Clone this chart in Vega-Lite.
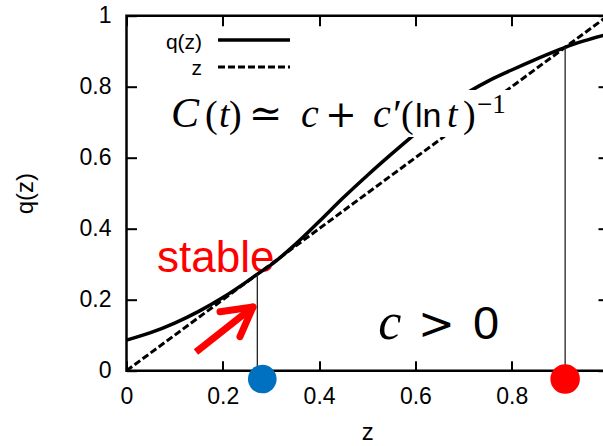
{
  "$schema": "https://vega.github.io/schema/vega-lite/v6.json",
  "width": 481.5,
  "height": 355,
  "autosize": "none",
  "padding": {"left": 126.5, "top": 15.7, "right": 0, "bottom": 75.3},
  "background": "white",
  "config": {
    "view": {"stroke": "black", "strokeWidth": 2.5},
    "axis": {
      "domain": false,
      "grid": false,
      "tickSize": -10,
      "tickWidth": 2,
      "tickColor": "black",
      "labelFont": "Liberation Sans",
      "labelFontSize": 23,
      "labelColor": "black",
      "labelFlush": false,
      "titleFont": "Liberation Sans",
      "titleFontSize": 24,
      "titleFontWeight": "normal",
      "titleColor": "black"
    }
  },
  "datasets": {
    "curve": [
      {"z": 0.0, "q": 0.086},
      {"z": 0.05, "q": 0.107},
      {"z": 0.1, "q": 0.134},
      {"z": 0.15, "q": 0.167},
      {"z": 0.2, "q": 0.206},
      {"z": 0.25, "q": 0.251},
      {"z": 0.272, "q": 0.272},
      {"z": 0.3, "q": 0.298},
      {"z": 0.35, "q": 0.355},
      {"z": 0.4, "q": 0.42},
      {"z": 0.45, "q": 0.487},
      {"z": 0.5, "q": 0.55},
      {"z": 0.55, "q": 0.61},
      {"z": 0.6, "q": 0.668},
      {"z": 0.65, "q": 0.724},
      {"z": 0.7, "q": 0.776},
      {"z": 0.75, "q": 0.815},
      {"z": 0.8, "q": 0.847},
      {"z": 0.85, "q": 0.877},
      {"z": 0.9, "q": 0.905},
      {"z": 0.911, "q": 0.911},
      {"z": 0.95, "q": 0.929},
      {"z": 1.0, "q": 0.948}
    ],
    "one": [{}]
  },
  "data": {"name": "one"},
  "layer": [
    {
      "mark": {"type": "text", "text": "stable", "font": "Liberation Sans", "fontSize": 44, "fill": "#ff0000", "align": "left", "baseline": "alphabetic"},
      "encoding": {
        "x": {"datum": 0.0633, "type": "quantitative", "axis": null},
        "y": {"datum": 0.278, "type": "quantitative", "axis": null}
      }
    },
    {
      "data": {"name": "curve"},
      "mark": {"type": "line", "color": "black", "strokeWidth": 3.5, "interpolate": "monotone"},
      "encoding": {
        "x": {
          "field": "z", "type": "quantitative",
          "scale": {"domain": [0, 1], "nice": false, "zero": false},
          "axis": {"orient": "bottom", "values": [0, 0.2, 0.4, 0.6, 0.8], "format": ".1~f", "labelPadding": 25, "labelDx": 3, "title": "z", "titlePadding": 12}
        },
        "y": {
          "field": "q", "type": "quantitative",
          "scale": {"domain": [0, 1], "nice": false, "zero": false},
          "axis": {"orient": "left", "values": [0, 0.2, 0.4, 0.6, 0.8, 1], "format": ".1~f", "labelPadding": 25.5, "labelDy": 1, "title": "q(z)", "titlePadding": 42}
        }
      }
    },
    {
      "data": {"name": "curve"},
      "mark": {"type": "line", "color": "black", "strokeWidth": 3, "strokeDash": [7, 3]},
      "encoding": {
        "x": {
          "field": "z", "type": "quantitative",
          "scale": {"domain": [0, 1], "nice": false, "zero": false},
          "axis": {"orient": "top", "values": [0, 0.2, 0.4, 0.6, 0.8, 1], "labels": false, "title": null}
        },
        "y": {
          "field": "z", "type": "quantitative",
          "scale": {"domain": [0, 1], "nice": false, "zero": false},
          "axis": {"orient": "right", "values": [0, 0.2, 0.4, 0.6, 0.8, 1], "labels": false, "title": null}
        }
      }
    },
    {
      "mark": {"type": "rule", "color": "#222222", "strokeWidth": 1.3},
      "encoding": {
        "x": {"datum": 0.2717, "type": "quantitative", "axis": null},
        "y": {"datum": 0, "type": "quantitative", "axis": null},
        "y2": {"datum": 0.272}
      }
    },
    {
      "mark": {"type": "rule", "color": "#222222", "strokeWidth": 1.3},
      "encoding": {
        "x": {"datum": 0.911, "type": "quantitative", "axis": null},
        "y": {"datum": 0, "type": "quantitative", "axis": null},
        "y2": {"datum": 0.911}
      }
    },
    {
      "mark": {"type": "rect", "fill": "white", "stroke": null},
      "encoding": {
        "x": {"datum": 0.07, "type": "quantitative", "axis": null},
        "x2": {"datum": 0.86},
        "y": {"datum": 0.658, "type": "quantitative", "axis": null},
        "y2": {"datum": 0.791}
      }
    },
    {
      "mark": {"type": "text", "text": "C", "font": "Liberation Serif", "fontStyle": "italic", "fontSize": 42, "fill": "black", "align": "left", "baseline": "alphabetic"},
      "encoding": {"x": {"datum": 0.0925, "type": "quantitative", "axis": null}, "y": {"datum": 0.6865, "type": "quantitative", "axis": null}}
    },
    {
      "mark": {"type": "text", "text": "(", "font": "Liberation Serif", "fontSize": 38, "fill": "black", "align": "left", "baseline": "alphabetic"},
      "encoding": {"x": {"datum": 0.1631, "type": "quantitative", "axis": null}, "y": {"datum": 0.6865, "type": "quantitative", "axis": null}}
    },
    {
      "mark": {"type": "text", "text": "t", "font": "Liberation Serif", "fontStyle": "italic", "fontSize": 38, "fill": "black", "align": "left", "baseline": "alphabetic"},
      "encoding": {"x": {"datum": 0.1921, "type": "quantitative", "axis": null}, "y": {"datum": 0.6865, "type": "quantitative", "axis": null}}
    },
    {
      "mark": {"type": "text", "text": ")", "font": "Liberation Serif", "fontSize": 38, "fill": "black", "align": "left", "baseline": "alphabetic"},
      "encoding": {"x": {"datum": 0.2128, "type": "quantitative", "axis": null}, "y": {"datum": 0.6865, "type": "quantitative", "axis": null}}
    },
    {
      "mark": {"type": "text", "text": "≃", "font": "DejaVu Serif", "fontSize": 40, "fill": "black", "align": "left", "baseline": "alphabetic"},
      "encoding": {"x": {"datum": 0.2545, "type": "quantitative", "axis": null}, "y": {"datum": 0.6865, "type": "quantitative", "axis": null}}
    },
    {
      "mark": {"type": "text", "text": "c", "font": "Liberation Serif", "fontStyle": "italic", "fontSize": 40, "fill": "black", "align": "left", "baseline": "alphabetic"},
      "encoding": {"x": {"datum": 0.3624, "type": "quantitative", "axis": null}, "y": {"datum": 0.6865, "type": "quantitative", "axis": null}}
    },
    {
      "mark": {"type": "text", "text": "+", "font": "DejaVu Serif", "fontSize": 38, "fill": "black", "align": "left", "baseline": "alphabetic"},
      "encoding": {"x": {"datum": 0.4125, "type": "quantitative", "axis": null}, "y": {"datum": 0.6865, "type": "quantitative", "axis": null}}
    },
    {
      "mark": {"type": "text", "text": "c′", "font": "Liberation Serif", "fontStyle": "italic", "fontSize": 40, "fill": "black", "align": "left", "baseline": "alphabetic"},
      "encoding": {"x": {"datum": 0.5119, "type": "quantitative", "axis": null}, "y": {"datum": 0.6865, "type": "quantitative", "axis": null}}
    },
    {
      "mark": {"type": "text", "text": "(", "font": "Liberation Serif", "fontSize": 38, "fill": "black", "align": "left", "baseline": "alphabetic"},
      "encoding": {"x": {"datum": 0.5701, "type": "quantitative", "axis": null}, "y": {"datum": 0.6865, "type": "quantitative", "axis": null}}
    },
    {
      "mark": {"type": "text", "text": "ln", "font": "Liberation Sans", "fontSize": 34, "fill": "black", "align": "left", "baseline": "alphabetic"},
      "encoding": {"x": {"datum": 0.5992, "type": "quantitative", "axis": null}, "y": {"datum": 0.6865, "type": "quantitative", "axis": null}}
    },
    {
      "mark": {"type": "text", "text": "t", "font": "Liberation Serif", "fontStyle": "italic", "fontSize": 38, "fill": "black", "align": "left", "baseline": "alphabetic"},
      "encoding": {"x": {"datum": 0.6656, "type": "quantitative", "axis": null}, "y": {"datum": 0.6865, "type": "quantitative", "axis": null}}
    },
    {
      "mark": {"type": "text", "text": ")", "font": "Liberation Serif", "fontSize": 38, "fill": "black", "align": "left", "baseline": "alphabetic"},
      "encoding": {"x": {"datum": 0.6989, "type": "quantitative", "axis": null}, "y": {"datum": 0.6865, "type": "quantitative", "axis": null}}
    },
    {
      "mark": {"type": "text", "text": "−1", "font": "Liberation Serif", "fontSize": 27, "fill": "black", "align": "left", "baseline": "alphabetic"},
      "encoding": {"x": {"datum": 0.7279, "type": "quantitative", "axis": null}, "y": {"datum": 0.7259, "type": "quantitative", "axis": null}}
    },
    {
      "mark": {"type": "text", "text": "c", "font": "Liberation Serif", "fontStyle": "italic", "fontSize": 52, "fill": "black", "align": "left", "baseline": "alphabetic"},
      "encoding": {"x": {"datum": 0.523, "type": "quantitative", "axis": null}, "y": {"datum": 0.0893, "type": "quantitative", "axis": null}}
    },
    {
      "mark": {"type": "text", "text": ">", "font": "DejaVu Serif", "fontSize": 44, "fill": "black", "align": "left", "baseline": "alphabetic"},
      "encoding": {"x": {"datum": 0.6054, "type": "quantitative", "axis": null}, "y": {"datum": 0.0893, "type": "quantitative", "axis": null}}
    },
    {
      "mark": {"type": "text", "text": "0", "font": "Liberation Sans", "fontSize": 47, "fill": "black", "align": "left", "baseline": "alphabetic"},
      "encoding": {"x": {"datum": 0.7197, "type": "quantitative", "axis": null}, "y": {"datum": 0.0893, "type": "quantitative", "axis": null}}
    },
    {
      "mark": {"type": "text", "text": "q(z)", "font": "Liberation Sans", "fontSize": 21, "fill": "black", "align": "right", "baseline": "alphabetic"},
      "encoding": {"x": {"datum": 0.157, "type": "quantitative", "axis": null}, "y": {"datum": 0.906, "type": "quantitative", "axis": null}}
    },
    {
      "mark": {"type": "text", "text": "z", "font": "Liberation Sans", "fontSize": 21, "fill": "black", "align": "right", "baseline": "alphabetic"},
      "encoding": {"x": {"datum": 0.157, "type": "quantitative", "axis": null}, "y": {"datum": 0.833, "type": "quantitative", "axis": null}}
    },
    {
      "mark": {"type": "rule", "color": "black", "strokeWidth": 3.5},
      "encoding": {
        "x": {"datum": 0.19, "type": "quantitative", "axis": null},
        "x2": {"datum": 0.3396},
        "y": {"datum": 0.9315, "type": "quantitative", "axis": null}
      }
    },
    {
      "mark": {"type": "rule", "color": "black", "strokeWidth": 3, "strokeDash": [7, 3]},
      "encoding": {
        "x": {"datum": 0.19, "type": "quantitative", "axis": null},
        "x2": {"datum": 0.3396},
        "y": {"datum": 0.8555, "type": "quantitative", "axis": null}
      }
    },
    {
      "mark": {"type": "rule", "color": "#ff0000", "strokeWidth": 7, "strokeCap": "butt"},
      "encoding": {
        "x": {"datum": 0.1443, "type": "quantitative", "axis": null},
        "x2": {"datum": 0.2627},
        "y": {"datum": 0.0527, "type": "quantitative", "axis": null},
        "y2": {"datum": 0.1794}
      }
    },
    {
      "mark": {"type": "rule", "color": "#ff0000", "strokeWidth": 7, "strokeCap": "round"},
      "encoding": {
        "x": {"datum": 0.1942, "type": "quantitative", "axis": null},
        "x2": {"datum": 0.2627},
        "y": {"datum": 0.1662, "type": "quantitative", "axis": null},
        "y2": {"datum": 0.1794}
      }
    },
    {
      "mark": {"type": "rule", "color": "#ff0000", "strokeWidth": 7, "strokeCap": "round"},
      "encoding": {
        "x": {"datum": 0.2357, "type": "quantitative", "axis": null},
        "x2": {"datum": 0.2627},
        "y": {"datum": 0.0958, "type": "quantitative", "axis": null},
        "y2": {"datum": 0.1794}
      }
    },
    {
      "mark": {"type": "point", "shape": "circle", "filled": true, "color": "#0070c0", "size": 820, "opacity": 1},
      "encoding": {
        "x": {"datum": 0.282, "type": "quantitative", "axis": null},
        "y": {"datum": -0.0234, "type": "quantitative", "axis": null}
      }
    },
    {
      "mark": {"type": "point", "shape": "circle", "filled": true, "color": "#ff0000", "size": 870, "opacity": 1},
      "encoding": {
        "x": {"datum": 0.911, "type": "quantitative", "axis": null},
        "y": {"datum": -0.0234, "type": "quantitative", "axis": null}
      }
    }
  ],
  "resolve": {"axis": {"x": "independent", "y": "independent"}}
}
